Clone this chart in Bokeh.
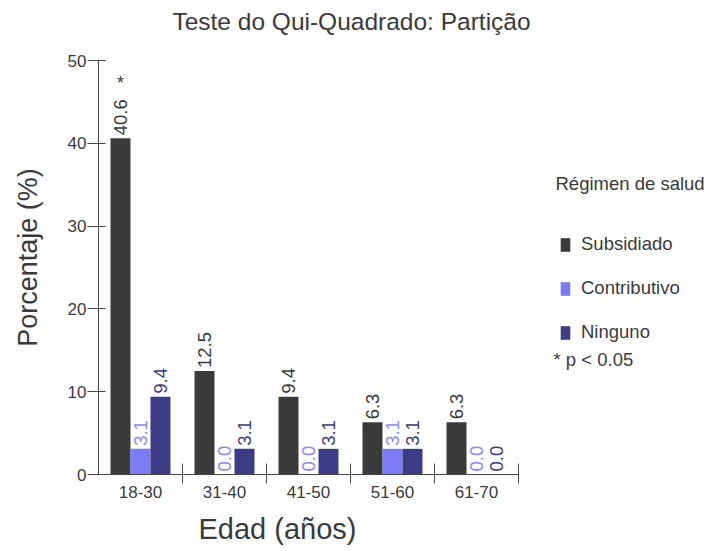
import math
import numpy as np
from bokeh.plotting import figure
from bokeh.models import ColumnDataSource, Range1d, FixedTicker, Label, Legend, LegendItem
from bokeh.embed import file_html
from bokeh.resources import INLINE
from bokeh.core.properties import value

# ---------------- data ----------------
title_text = "Teste do Qui-Quadrado: Partição"
categories = ["18-30", "31-40", "41-50", "51-60", "61-70"]
series_names = ["Subsidiado", "Contributivo", "Ninguno"]
subsidiado = [40.6, 12.5, 9.4, 6.3, 6.3]
contributivo = [3.1, 0.0, 0.0, 3.1, 0.0]
ninguno = [9.4, 3.1, 3.1, 3.1, 0.0]
significance = ["*", "", "", "", ""]   # marks on Subsidiado bars
y_ticks = [0, 10, 20, 30, 40, 50]
y_max = 50
x_label = "Edad (años)"
y_label = "Porcentaje (%)"
legend_title = "Régimen de salud"
note_text = "* p < 0.05"

# ---------------- style / layout ----------------
FONT = "Liberation Sans"
TEXT = "#3a3a3a"
AXIS = "#444444"
bar_colors = ["#3a3a3a", "#7b7bf6", "#3c3c86"]
label_colors = ["#3a3a3a", "#8a8af0", "#3c3c7e"]

W, H = 708, 549
ORIGIN_X, ORIGIN_Y = 98, 474        # pixel position of the axes origin
PX_PER_CAT = 84.0
PX_PER_UNIT = 8.28
n = len(categories)

p = figure(width=W, height=H, output_backend="svg", toolbar_location=None,
           x_range=Range1d(-ORIGIN_X / PX_PER_CAT, (W - ORIGIN_X) / PX_PER_CAT),
           y_range=Range1d(-(H - ORIGIN_Y) / PX_PER_UNIT, ORIGIN_Y / PX_PER_UNIT),
           min_border=0, title=None)
p.outline_line_color = None
p.xgrid.visible = False
p.ygrid.visible = False
p.background_fill_color = "white"
p.border_fill_color = "white"

centers = np.arange(n) + 0.5
bw = 0.238
offsets = [-bw, 0.0, bw]
all_vals = [subsidiado, contributivo, ninguno]

renderers = []
for i, (name, vals) in enumerate(zip(series_names, all_vals)):
    src = ColumnDataSource(dict(x=centers + offsets[i], top=vals,
                                lbl=[f"{v:.1f}" for v in vals]))
    r = p.vbar(x="x", top="top", width=bw, source=src,
               fill_color=bar_colors[i], line_color=None)
    renderers.append(r)
    p.text(x="x", y="top", text="lbl", source=src, angle=math.pi / 2,
           text_align="left", text_baseline="middle", y_offset=-3,
           text_font=value(FONT), text_font_size="18.5px",
           text_color=label_colors[i])

sig_src = ColumnDataSource(dict(x=centers + offsets[0], y=subsidiado, t=significance))
p.text(x="x", y="y", text="t", source=sig_src, text_align="center",
       text_baseline="alphabetic", y_offset=-55, x_offset=0,
       text_font=value(FONT), text_font_size="18px", text_color=TEXT)

# ---------------- axes (fixed at the origin, inside the frame) ----------------
xa = p.xaxis[0]
xa.fixed_location = 0
xa.bounds = (0, n)
xa.ticker = FixedTicker(ticks=[float(c) for c in centers],
                        minor_ticks=[float(k) for k in range(1, n + 1)])
xa.major_label_overrides = {float(c): cat for c, cat in zip(centers, categories)}
xa.major_tick_in = 0
xa.major_tick_out = 0
xa.minor_tick_in = 11
xa.minor_tick_out = 9
xa.minor_tick_line_color = AXIS
xa.axis_line_color = AXIS
xa.major_label_standoff = 2
xa.major_label_text_font = FONT
xa.major_label_text_font_size = "17px"
xa.major_label_text_color = TEXT

ya = p.yaxis[0]
ya.fixed_location = 0
ya.bounds = (0, y_max)
ya.ticker = FixedTicker(ticks=y_ticks, minor_ticks=[])
ya.major_tick_in = 7
ya.major_tick_out = 11
ya.major_tick_line_color = AXIS
ya.minor_tick_line_color = None
ya.axis_line_color = AXIS
ya.major_label_standoff = 1
ya.major_label_text_font = FONT
ya.major_label_text_font_size = "17px"
ya.major_label_text_color = TEXT

# ---------------- texts (screen units, frame = whole canvas) ----------------
def add_label(text, x, y, size, align="left", angle=0.0):
    p.add_layout(Label(x=x, y=y, x_units="screen", y_units="screen", text=text,
                       text_align=align, text_baseline="alphabetic", angle=angle,
                       text_font=FONT, text_font_size=size, text_color=TEXT))

add_label(title_text, 351, H - 29 + 8, "24.5px", align="center")
add_label(x_label, 198, H - 536 + 8, "29px")
add_label(y_label, 27, H - 257, "27px", align="center", angle=math.pi / 2)
add_label(legend_title, 555, H - 191 + 8, "18.5px")
add_label(note_text, 553, H - 367 + 8, "18.5px")

legend = Legend(items=[LegendItem(label=nm, renderers=[r]) for nm, r in zip(series_names, renderers)],
                location=(559, H - 343), orientation="vertical",
                glyph_width=12, glyph_height=17, label_height=22, spacing=22,
                padding=0, margin=0, label_standoff=10,
                border_line_color=None, background_fill_alpha=0,
                label_text_font=FONT, label_text_font_size="18.5px", label_text_color=TEXT)
p.add_layout(legend, "center")

open("out.html", "w").write(file_html(p, INLINE))
